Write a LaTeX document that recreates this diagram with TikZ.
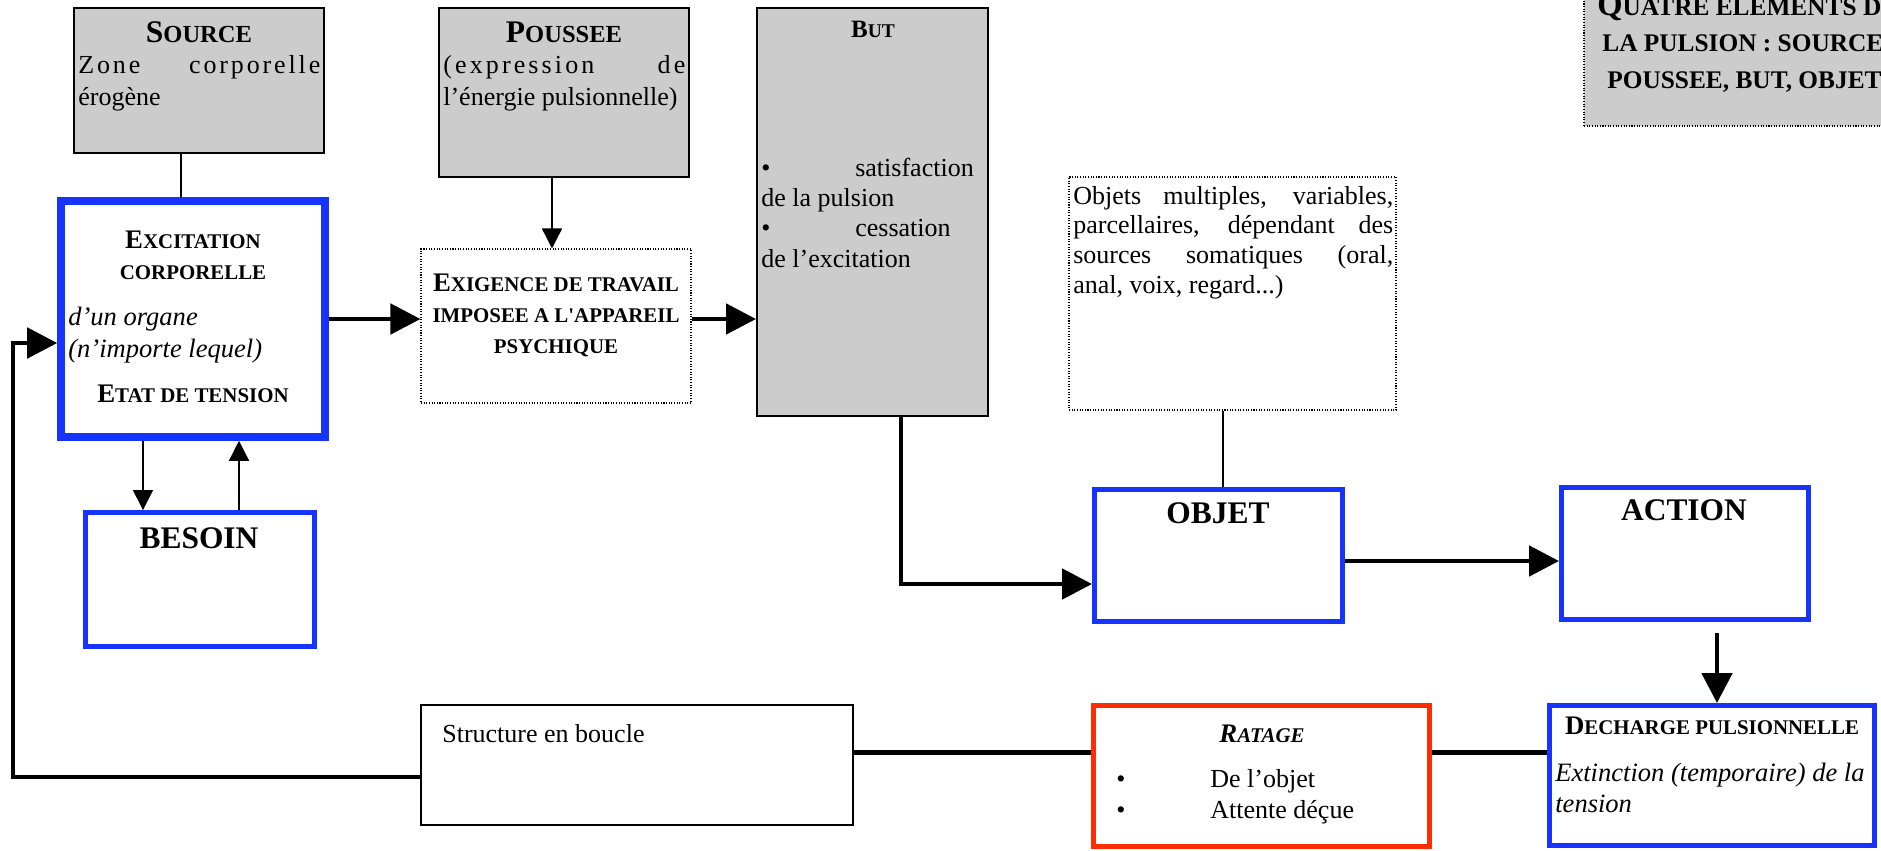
\documentclass[tikz,border=0pt]{standalone}
\usepackage{fontspec}
\setmainfont{Liberation Serif}
\usetikzlibrary{arrows.meta,fit}

\definecolor{boxgray}{RGB}{204,204,204}
\definecolor{wordblue}{RGB}{22,51,255}
\definecolor{wordred}{RGB}{255,45,0}

\makeatletter
\newcommand\ksc[1]{{\fontsize{\fpeval{0.78*\f@size}}{\f@baselineskip}\selectfont #1}}
\makeatother
\newcommand\bodyfont{\fontsize{14.8}{17.1}\selectfont}
\newcommand\itfont{\fontsize{15.1}{18.2}\selectfont\itshape}
\newcommand\headfont{\fontsize{17.9}{20}\selectfont\bfseries}
\newcommand\labelfont{\fontsize{15.25}{17.4}\selectfont\bfseries}
\newcommand\quatfont{\fontsize{18.5}{20.6}\selectfont\bfseries}

\begin{document}
\begin{tikzpicture}[x=0.02cm, y=-0.02cm,
    graybox/.style={draw, line width=1.1pt, fill=boxgray, inner sep=0pt},
    dotbox/.style={draw, line width=0.6pt, dash pattern=on 0.6pt off 0.9pt, inner sep=0pt},
    plainbox/.style={draw, line width=1pt, inner sep=0pt},
    bluebox/.style={draw=wordblue, line width=2.8pt, inner sep=0pt},
    redbox/.style={draw=wordred, line width=2.8pt, inner sep=0pt},
    txt/.style={inner sep=0pt, anchor=base west, align=left, font=\bodyfont},
    link/.style={line width=0.8pt},
    boldlink/.style={line width=2.8pt},
    bigarrow/.style={line width=2.8pt, -{Triangle[length=0.6cm,width=0.6cm]}},
    smallarrow/.style={line width=0.8pt, -{Triangle[length=0.4cm,width=0.4cm]}}]

    \useasboundingbox (0,0) rectangle (1881,850);
    \clip (0,0) rectangle (1881,850);

    % these are the boxes
    \node[graybox, fit={(74,8) (324,153)}] (src) {};
    \node[graybox, fit={(439,8) (689,177)}] (pou) {};
    \node[graybox, fit={(757,8) (988,416)}] (but) {};
    \node[dotbox, fill=boxgray, fit={(1584,-30) (1990,126)}] (quat) {};
    \node[bluebox, line width=4.3pt, fit={(61,201) (325,437)}] (exc) {};
    \node[dotbox, fit={(421,249) (691,403)}] (exi) {};
    \node[bluebox, fit={(85.5,512.5) (314.5,646.5)}] (bes) {};
    \node[dotbox, fit={(1069,177) (1396,410)}] (objs) {};
    \node[bluebox, fit={(1094.5,489.5) (1342.5,621.5)}] (obj) {};
    \node[bluebox, fit={(1561.5,487.5) (1808.5,619.5)}] (act) {};
    \node[plainbox, fit={(421,705) (853,825)}] (str) {};
    \node[redbox, fit={(1093.5,705.5) (1429.5,846.5)}] (rat) {};
    \node[bluebox, fit={(1549.5,705.5) (1874.5,845.5)}] (dech) {};

    % these are the texts (multi-line ones sit on their last line)
    \node[txt, anchor=base] (srcT) at (199,42) {\headfont S\ksc{OURCE}};
    \node[txt, font=\fontsize{14.8}{18.2}\selectfont] (srcB) at (78,105)
        {\makebox[4.84cm][s]{\addfontfeature{LetterSpace=11}Zone corporelle}\\érogène};
    \node[txt, anchor=base] (pouT) at (564,42) {\headfont P\ksc{OUSSEE}};
    \node[txt, font=\fontsize{14.8}{18.2}\selectfont] (pouB) at (443,105)
        {\makebox[4.84cm][s]{\addfontfeature{LetterSpace=12}(expression de}\\l’énergie pulsionnelle)};
    \node[txt, anchor=base] (butT) at (873,37) {\fontsize{14.2}{17}\selectfont\bfseries B\ksc{UT}};
    \node[txt] (butB) at (761,267)
        {\makebox[1.88cm][l]{•}satisfaction\\de la pulsion\\\makebox[1.88cm][l]{•}cessation\\de l’excitation};
    \node[txt, font=\quatfont] (quatT) at (1597,88)
        {Q\ksc{UATRE ELEMENTS DE}\\\hspace*{0.1cm}\ksc{LA PULSION : SOURCE,}\\\hspace*{0.2cm}\ksc{POUSSEE, BUT, OBJET}};
    \node[txt, anchor=base, align=center, font=\labelfont] (excT) at (193,279)
        {E\ksc{XCITATION}\\\ksc{CORPORELLE}};
    \node[txt, font=\itfont] (excI) at (68,357) {d’un organe\\(n’importe lequel)};
    \node[txt, anchor=base, font=\labelfont] (excE) at (193,402) {E\ksc{TAT DE TENSION}};
    \node[txt, anchor=base, align=center, font=\labelfont] (exiT) at (556,353)
        {E\ksc{XIGENCE DE TRAVAIL}\\\ksc{IMPOSEE A L\textquotesingle APPAREIL}\\\ksc{PSYCHIQUE}};
    \node[txt, font=\fontsize{14.8}{16.8}\selectfont] (objsT) at (1073,293)
        {\makebox[6.4cm][s]{Objets multiples, variables,}\\
         \makebox[6.4cm][s]{parcellaires, dépendant des}\\
         \makebox[6.4cm][s]{sources somatiques (oral,}\\
         anal, voix, regard...)};
    \node[txt, anchor=base, font=\headfont] (besT) at (199,548) {BESOIN};
    \node[txt, anchor=base, font=\headfont] (objT) at (1218,523) {OBJET};
    \node[txt, anchor=base, font=\headfont] (actT) at (1684,520) {ACTION};
    \node[txt] (strT) at (442,742) {Structure en boucle};
    \node[txt, anchor=base, font=\labelfont\itshape] (ratT) at (1262,742) {R\ksc{ATAGE}};
    \node[txt] (ratB) at (1210,818)
        {\llap{\makebox[1.88cm][l]{•}}De l’objet\\\llap{\makebox[1.88cm][l]{•}}Attente déçue};
    \node[txt, anchor=base, font=\labelfont] (dechT) at (1712,734) {D\ksc{ECHARGE PULSIONNELLE}};
    \node[txt, font=\fontsize{15.1}{17.6}\selectfont\itshape] (dechI) at (1555,812)
        {Extinction (temporaire) de la\\tension};

    % these are the connectors
    \coordinate (srcX) at (181,0);
    \coordinate (pouX) at (552,0);
    \coordinate (besD) at (143,0);
    \coordinate (besU) at (239,0);
    \coordinate (butX) at (901,584);
    \coordinate (objX) at (1223,0);
    \coordinate (oaY) at (0,561);
    \coordinate (adX) at (1717,633);
    \coordinate (rowY) at (0,752.5);
    \coordinate (loopX) at (13,343);
    \coordinate (loopY) at (0,777);

    \draw[link] (srcX |- src.south) -- (srcX |- exc.north);
    \draw[smallarrow] (pouX |- pou.south) -- (pouX |- exi.north);
    \draw[bigarrow] (exc.east) -- (exc.east -| exi.west);
    \draw[bigarrow] (exi.east |- exc.east) -- (but.west |- exc.east);
    \draw[smallarrow] (besD |- exc.south) -- (besD |- bes.north);
    \draw[smallarrow] (besU |- bes.north) -- (besU |- exc.south);
    \draw[bigarrow] (butX |- but.south) -- (butX) -- (butX -| obj.west);
    \draw[link] (objX |- objs.south) -- (objX |- obj.north);
    \draw[bigarrow] (obj.east |- oaY) -- (act.west |- oaY);
    \draw[bigarrow] (adX) -- (adX |- dech.north);
    \draw[boldlink] (str.east |- rowY) -- (rat.west |- rowY);
    \draw[boldlink] (rat.east |- rowY) -- (dech.west |- rowY);
    \draw[bigarrow] (str.west |- loopY) -- (loopX |- loopY) -- (loopX) -- (loopX -| exc.west);

\end{tikzpicture}
\end{document}
